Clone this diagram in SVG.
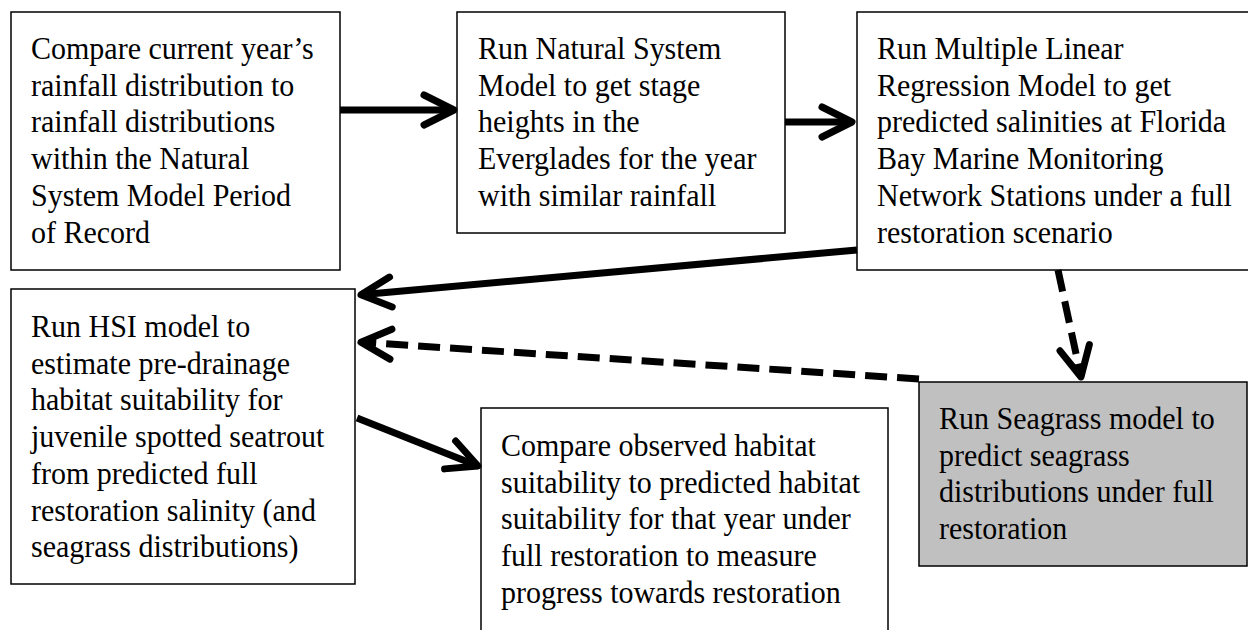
<svg xmlns="http://www.w3.org/2000/svg" width="1248" height="630" viewBox="0 0 1248 630">
  <style>
    .box { fill: #ffffff; stroke: #000000; stroke-width: 1.5; }
    .grey { fill: #c0c0c0; }
    .lbl { font-family: "Liberation Serif", "Times New Roman", serif; font-size: 30px; fill: #000000; }
    .conn { fill: none; stroke: #000000; stroke-width: 7; }
    .dash { stroke-dasharray: 22 10; }
  </style>
  <defs>
    <marker id="vhead" markerUnits="userSpaceOnUse" viewBox="-40 -22 48 44" markerWidth="48" markerHeight="44" refX="0" refY="0" orient="auto">
      <path d="M -30 -15 L 0 0 L -30 15" fill="none" stroke="#000000" stroke-width="7" stroke-linecap="round" stroke-linejoin="round" stroke-dasharray="none"/>
    </marker>
  </defs>

  <g id="node-compare-rainfall">
    <rect class="box" x="11" y="12" width="329" height="258"/>
    <text class="lbl" transform="translate(31 59) scale(1 1.08)">
      <tspan x="0" y="0">Compare current year’s</tspan>
      <tspan x="0" y="34">rainfall distribution to</tspan>
      <tspan x="0" y="68">rainfall distributions</tspan>
      <tspan x="0" y="102">within the Natural</tspan>
      <tspan x="0" y="136">System Model Period</tspan>
      <tspan x="0" y="170">of Record</tspan>
    </text>
  </g>

  <g id="node-natural-system">
    <rect class="box" x="457" y="12" width="328" height="221"/>
    <text class="lbl" transform="translate(478 59) scale(1 1.08)">
      <tspan x="0" y="0">Run Natural System</tspan>
      <tspan x="0" y="34">Model to get stage</tspan>
      <tspan x="0" y="68">heights in the</tspan>
      <tspan x="0" y="102">Everglades for the year</tspan>
      <tspan x="0" y="136">with similar rainfall</tspan>
    </text>
  </g>

  <g id="node-regression">
    <rect class="box" x="857" y="12" width="392" height="258"/>
    <text class="lbl" transform="translate(877 59) scale(1 1.08)">
      <tspan x="0" y="0">Run Multiple Linear</tspan>
      <tspan x="0" y="34">Regression Model to get</tspan>
      <tspan x="0" y="68">predicted salinities at Florida</tspan>
      <tspan x="0" y="102">Bay Marine Monitoring</tspan>
      <tspan x="0" y="136">Network Stations under a full</tspan>
      <tspan x="0" y="170">restoration scenario</tspan>
    </text>
  </g>

  <g id="node-hsi">
    <rect class="box" x="11" y="289" width="344" height="295"/>
    <text class="lbl" transform="translate(31 337) scale(1 1.08)">
      <tspan x="0" y="0">Run HSI model to</tspan>
      <tspan x="0" y="34">estimate pre-drainage</tspan>
      <tspan x="0" y="68">habitat suitability for</tspan>
      <tspan x="0" y="102">juvenile spotted seatrout</tspan>
      <tspan x="0" y="136">from predicted full</tspan>
      <tspan x="0" y="170">restoration salinity (and</tspan>
      <tspan x="0" y="204">seagrass distributions)</tspan>
    </text>
  </g>

  <g id="node-compare-observed">
    <rect class="box" x="481" y="408" width="407" height="240"/>
    <text class="lbl" transform="translate(501 456) scale(1 1.08)">
      <tspan x="0" y="0">Compare observed habitat</tspan>
      <tspan x="0" y="34">suitability to predicted habitat</tspan>
      <tspan x="0" y="68">suitability for that year under</tspan>
      <tspan x="0" y="102">full restoration to measure</tspan>
      <tspan x="0" y="136">progress towards restoration</tspan>
    </text>
  </g>

  <g id="node-seagrass">
    <rect class="box grey" x="919" y="382" width="328" height="184"/>
    <text class="lbl" transform="translate(939 429) scale(1 1.08)">
      <tspan x="0" y="0">Run Seagrass model to</tspan>
      <tspan x="0" y="34">predict seagrass</tspan>
      <tspan x="0" y="68">distributions under full</tspan>
      <tspan x="0" y="102">restoration</tspan>
    </text>
  </g>

  <g id="connectors">
    <path class="conn" d="M 340 110 L 454 110" marker-end="url(#vhead)"/>
    <path class="conn" d="M 785 122 L 852 122" marker-end="url(#vhead)"/>
    <path class="conn" d="M 857 250 L 361 294.7" marker-end="url(#vhead)"/>
    <path class="conn dash" d="M 919 379 L 361 342.2" marker-end="url(#vhead)"/>
    <path class="conn dash" d="M 1058 270 L 1081 377" marker-end="url(#vhead)"/>
    <path class="conn" d="M 357 418 L 478 466" marker-end="url(#vhead)"/>
  </g>
</svg>
